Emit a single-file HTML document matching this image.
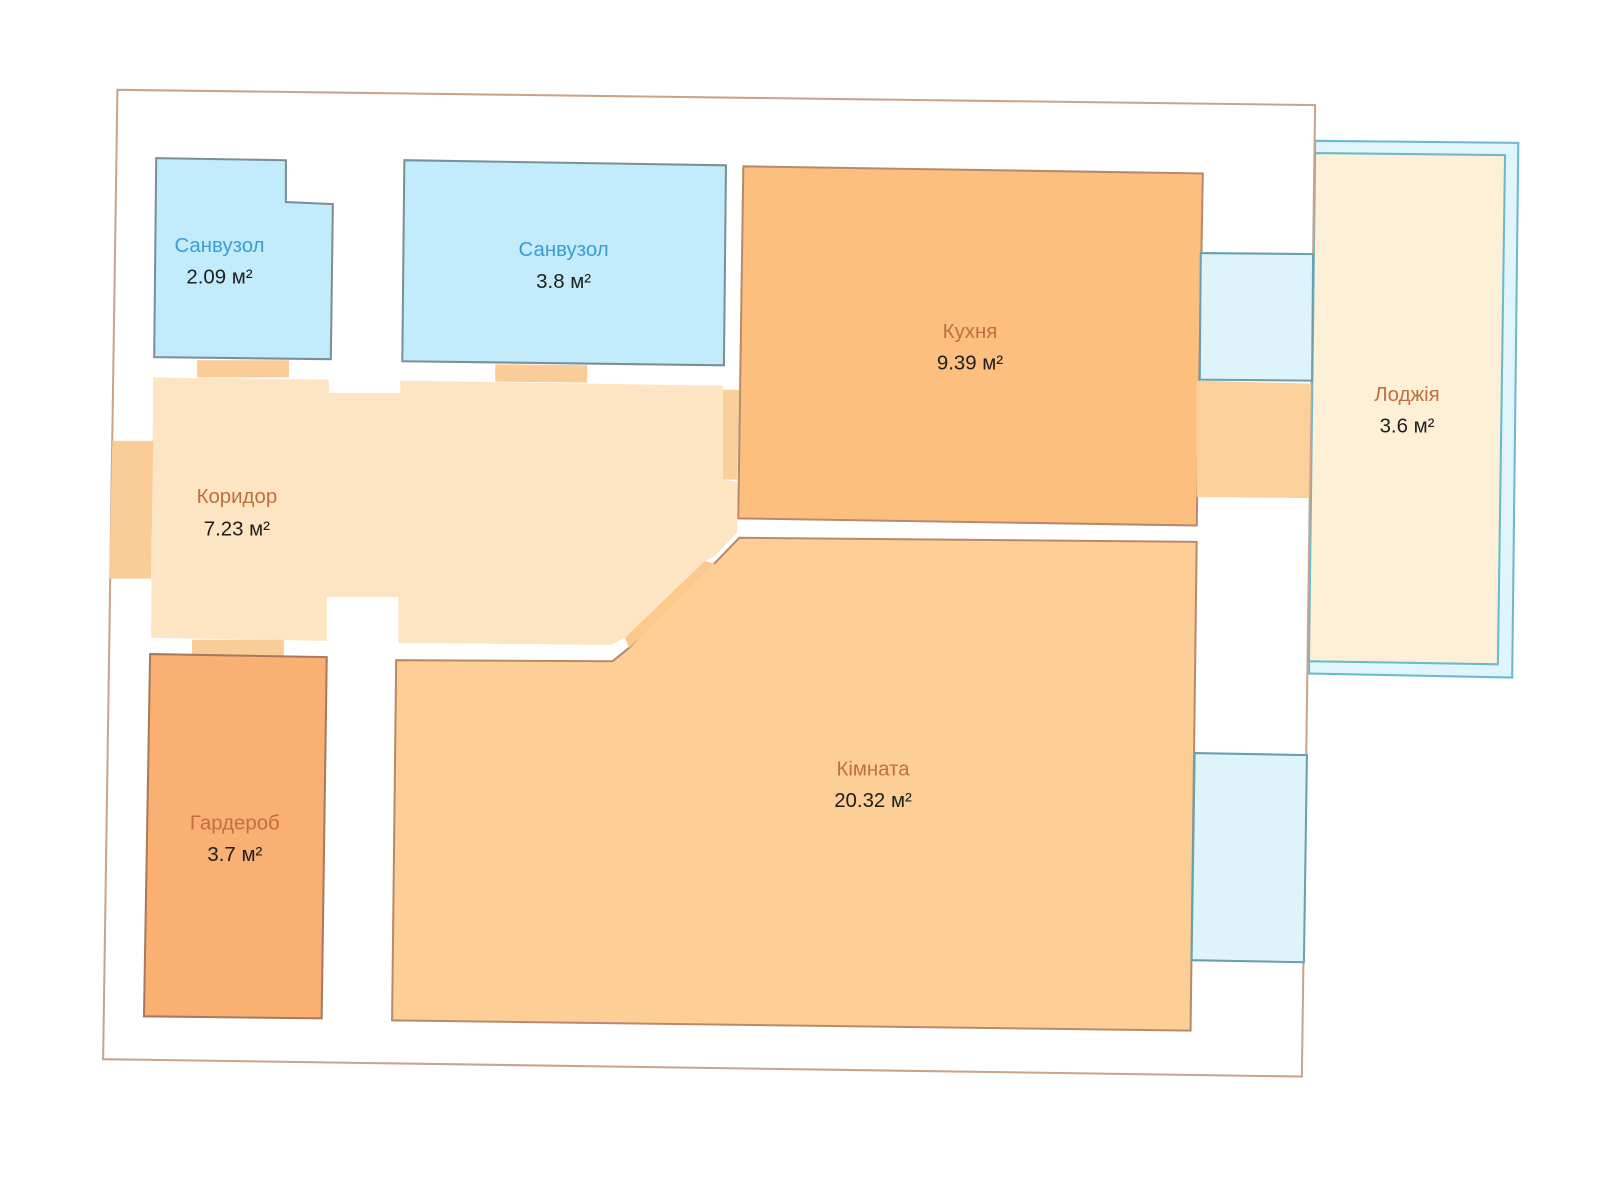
<!DOCTYPE html>
<html><head><meta charset="utf-8"><style>
html,body{margin:0;padding:0;background:#fff;width:1600px;height:1200px;overflow:hidden}
svg{display:block}
text{font-family:"Liberation Sans",sans-serif;font-size:20px;text-anchor:middle}
.l{fill:#c0703e}.b{fill:#3a9fd0}.n{fill:#1e1e1e}
</style></head><body>
<svg width="1600" height="1200" viewBox="0 0 1567 1176" preserveAspectRatio="none">
<rect x="0" y="0" width="1567" height="1176" fill="#fff"/>
<polygon points="1288,138 1487,140 1481,664 1282,660" fill="#dff4fb" stroke="#6bb8d0" stroke-width="2"/>
<polygon points="1288,150 1474,152 1467,651 1282,648" fill="#fdf0d6" stroke="#6bb8d0" stroke-width="2"/>
<polygon points="115,88 1288,103 1275,1055 101,1038" fill="#fff" stroke="#c9a48a" stroke-width="2"/>
<polygon points="728,163 1178,170 1172,515 723,508" fill="#fdbf7e" stroke="#b98a6a" stroke-width="2"/>
<polygon points="1176,248 1286,249 1285,373 1175,372" fill="#def4fb" stroke="#6a9fae" stroke-width="2"/>
<polygon points="1172,373 1284,376 1282,488 1172,487" fill="#fcd09a"/>
<polygon points="150,370 322,372 322,385 392,385 392,373 708,378 708,470 722,472 722,522 700,545 690,550 612,625 598,632 390,630 390,585 320,585 320,628 148,625" fill="#fde4c3"/>
<polygon points="708,382 724,382 722,470 708,470" fill="#fbcf99"/>
<polygon points="724,527 1172,531 1166,1010 384,1000 388,647 600,648 616,635 688,555 700,552" fill="#fdcf96" stroke="#b98a6a" stroke-width="2"/>
<polygon points="612,625 690,550 700,552 616,635" fill="#fcc98c"/>
<polygon points="1170,738 1280,740 1277,943 1167,941" fill="#def4fb" stroke="#6a9fae" stroke-width="2"/>
<polygon points="153,155 280,157 280,198 326,200 324,352 151,350" fill="#c2ebfb" stroke="#7b8f99" stroke-width="2"/>
<polygon points="193,353 283,353 283,370 193,370" fill="#f9cc98"/>
<polygon points="396,157 711,162 709,358 394,354" fill="#c2ebfb" stroke="#7b8f99" stroke-width="2"/>
<polygon points="485,357 575,358 575,375 485,374" fill="#f9cc98"/>
<polygon points="110,432 150,432 148,567 107,567" fill="#f9cc98"/>
<polygon points="188,627 278,627 278,644 188,644" fill="#f9cc98"/>
<polygon points="147,641 320,644 315,998 141,996" fill="#f9b072" stroke="#a97a5a" stroke-width="2"/>
<text x="215" y="247" class="b">Санвузол</text><text x="215" y="278" class="n">2.09 м²</text>
<text x="552" y="251" class="b">Санвузол</text><text x="552" y="282" class="n">3.8 м²</text>
<text x="950" y="331" class="l">Кухня</text><text x="950" y="362" class="n">9.39 м²</text>
<text x="1378" y="393" class="l">Лоджія</text><text x="1378" y="424" class="n">3.6 м²</text>
<text x="232" y="493" class="l">Коридор</text><text x="232" y="525" class="n">7.23 м²</text>
<text x="230" y="813" class="l">Гардероб</text><text x="230" y="844" class="n">3.7 м²</text>
<text x="855" y="760" class="l">Кімната</text><text x="855" y="791" class="n">20.32 м²</text>
</svg>
</body></html>
